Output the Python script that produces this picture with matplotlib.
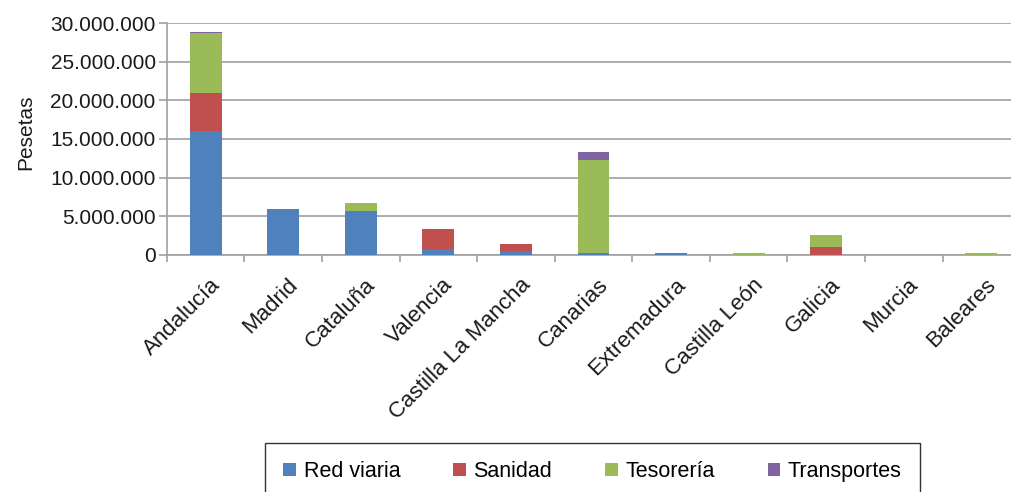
import matplotlib
matplotlib.use("Agg")
import matplotlib.pyplot as plt
import matplotlib.transforms as mtransforms
import numpy as np
from matplotlib.ticker import FuncFormatter, FixedLocator
from matplotlib.patches import Patch

categories = ["Andalucía", "Madrid", "Cataluña", "Valencia", "Castilla La Mancha",
              "Canarias", "Extremadura", "Castilla León", "Galicia", "Murcia", "Baleares"]
red_viaria = [16000000, 5900000, 5650000, 700000, 520000, 220000, 250000, 0, 0, 30000, 0]
sanidad = [4900000, 0, 0, 2700000, 940000, 0, 0, 0, 1000000, 0, 0]
tesoreria = [7800000, 0, 1050000, 0, 0, 12000000, 0, 200000, 1600000, 0, 200000]
transportes = [200000, 0, 0, 0, 0, 1100000, 0, 0, 0, 0, 0]

series = [("Red viaria", red_viaria, "#4F81BD"),
          ("Sanidad", sanidad, "#C0504D"),
          ("Tesorería", tesoreria, "#9BBB59"),
          ("Transportes", transportes, "#8064A2")]

plt.rcParams['font.family'] = ['Liberation Sans', 'DejaVu Sans']

fig = plt.figure(figsize=(10.11, 4.92), dpi=100)
ax = fig.add_axes([0.165, 0.482, 0.844, 0.471])

x = np.arange(len(categories))
bottom = np.zeros(len(categories))
for name, vals, col in series:
    v = np.array(vals, dtype=float)
    ax.bar(x, v, width=0.41, bottom=bottom, color=col, label=name, linewidth=0, zorder=3)
    bottom += v

ax.set_xlim(-0.5, len(categories) - 0.5)
ax.set_ylim(0, 30000000)
ax.set_yticks(np.arange(0, 30000001, 5000000))
ax.yaxis.set_major_formatter(FuncFormatter(lambda v, p: f"{int(v):,}".replace(",", ".")))
ax.grid(axis='y', color='#A0A0A0', linewidth=1.2, zorder=0)
ax.set_axisbelow(True)

for s in ['top', 'right']:
    ax.spines[s].set_visible(False)
for s in ['left', 'bottom']:
    ax.spines[s].set_color('#A0A0A0')
    ax.spines[s].set_linewidth(1.2)

ax.tick_params(axis='y', length=6, color='#A0A0A0', width=1.2, labelsize=15, labelcolor='#1a1a1a', pad=2)
ax.set_xticks(x)
ax.set_xticklabels(categories, rotation=45, ha='right', va='top', rotation_mode='anchor',
                   fontsize=16, color='#1a1a1a')
ax.tick_params(axis='x', which='major', length=0, pad=14)
offset = mtransforms.ScaledTranslation(4 / 100, 0, fig.dpi_scale_trans)
for lab in ax.get_xticklabels():
    lab.set_transform(lab.get_transform() + offset)
ax.xaxis.set_minor_locator(FixedLocator(np.arange(-0.5, len(categories), 1.0)))
ax.tick_params(axis='x', which='minor', length=5, color='#A0A0A0', width=1.2)

ax.set_ylabel("Pesetas", fontsize=15, color='#1a1a1a')
ax.yaxis.set_label_coords(-0.154, 0.53)

handles = [Patch(facecolor=c, edgecolor='none', label=n) for n, _, c in series]
leg = fig.legend(handles=handles, loc='upper left', bbox_to_anchor=(0.262, 0.1), ncol=4,
                 frameon=True, fancybox=False, edgecolor='black', fontsize=15.5,
                 handlelength=0.6, handleheight=0.6, handletextpad=0.35,
                 columnspacing=2.45, borderpad=0.85, borderaxespad=0)
leg.get_frame().set_linewidth(1.0)

fig.savefig("out.png", dpi=100)
